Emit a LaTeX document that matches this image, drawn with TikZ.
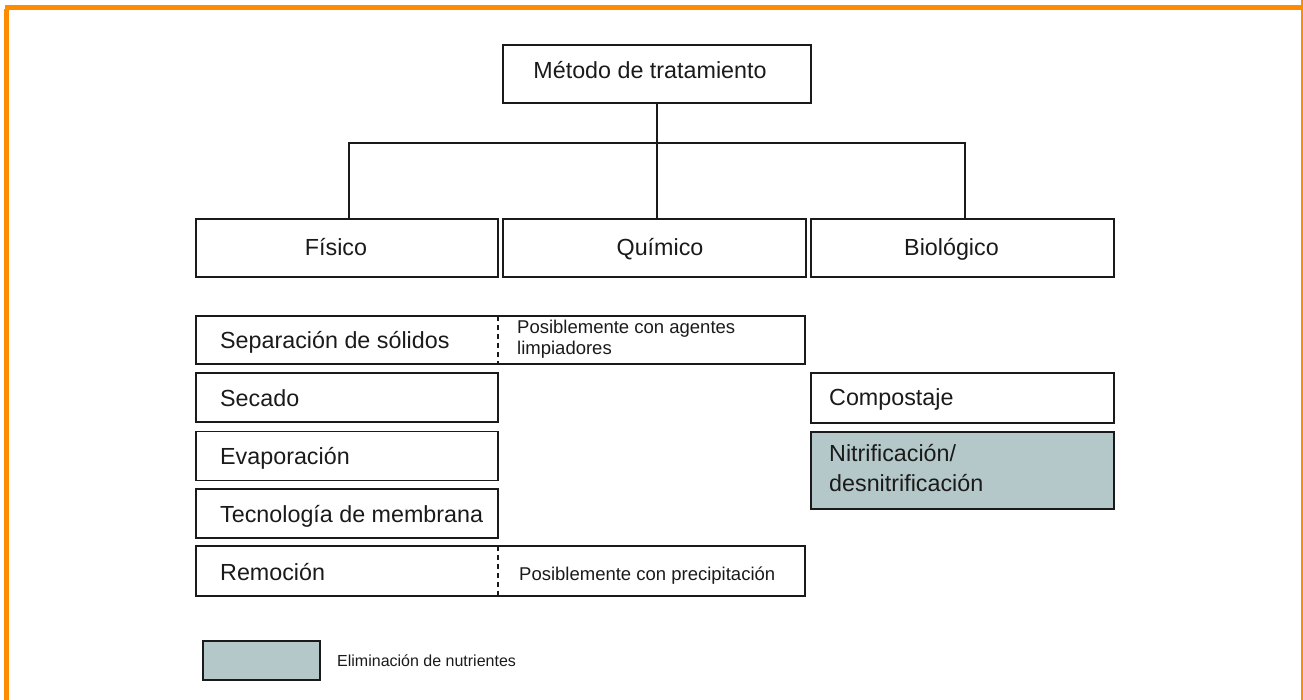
\documentclass[tikz,border=0pt]{standalone}
\usepackage{fontspec}
\setmainfont{Liberation Sans}
\definecolor{nutri}{HTML}{B5C8C9}
\definecolor{frame}{HTML}{FF8C00}
\definecolor{ink}{HTML}{1A1A1A}
\begin{document}
\begin{tikzpicture}[x=1pt,y=-1pt,
  box/.style={draw=ink, line width=1.9pt, inner sep=0pt},
  bigtxt/.style={font=\fontsize{23.3}{29}\selectfont, inner sep=0pt, text=ink},
  smalltxt/.style={font=\fontsize{18.5}{21}\selectfont, inner sep=0pt, text=ink},
  conn/.style={draw=ink, line width=1.9pt},
  divider/.style={draw=ink, line width=1.3pt, dash pattern=on 5pt off 4pt}]
\useasboundingbox (0,0) rectangle (1303,700);
% orange frame
\draw[frame, line width=5pt] (6.5,9) -- (6.5,700);
\draw[frame, line width=5pt] (5,7.5) -- (1303,7.5);
\draw[frame, line width=3pt] (1302.5,0) -- (1302.5,700);

% top level
\node[box, minimum width=308pt, minimum height=58pt] (top) at (657,74) {};
\node[bigtxt, anchor=base] (toptxt) at (650,79) {Método de tratamiento};

% second level
\node[box, minimum width=302pt, minimum height=58pt] (fis) at (347,248) {};
\node[box, minimum width=303pt, minimum height=58pt] (qui) at (654.5,248) {};
\node[box, minimum width=303pt, minimum height=58pt] (bio) at (962.5,248) {};
\node[bigtxt, anchor=base] (fistxt) at (336,256) {Físico};
\node[bigtxt, anchor=base] (quitxt) at (660,256) {Químico};
\node[bigtxt, anchor=base] (biotxt) at (951.5,256) {Biológico};

\coordinate (j) at (657,143);
\draw[conn] (top.south) -- (top.south |- qui.north);
\draw[conn] ([xshift=2pt]fis.north) |- (j) -| ([xshift=2.5pt]bio.north);

% physical column
\node[box, minimum width=609pt, minimum height=48pt] (sep) at (500.5,340) {};
\coordinate (sepdivT) at (498,316);
\coordinate (sepdivB) at (498,364);
\draw[divider] (sepdivT) -- (sepdivB);
\node[bigtxt, anchor=base west] (septxt) at (220,348.5) {Separación de sólidos};
\node[smalltxt, anchor=west, align=left] (sepnote) at (517,339.5) {Posiblemente con agentes\\limpiadores};

\node[box, minimum width=302pt, minimum height=49pt] (sec) at (347,397.5) {};
\node[bigtxt, anchor=base west] (sectxt) at (220,406) {Secado};
\node[box, minimum width=302pt, minimum height=49pt] (eva) at (347,456) {};
\node[bigtxt, anchor=base west] (evatxt) at (220,464.5) {Evaporación};
\node[box, minimum width=302pt, minimum height=49pt] (tec) at (347,513.5) {};
\node[bigtxt, anchor=base west] (tectxt) at (220,522) {Tecnología de membrana};

\node[box, minimum width=609pt, minimum height=50pt] (rem) at (500.5,571) {};
\coordinate (remdivT) at (498,546);
\coordinate (remdivB) at (498,596);
\draw[divider] (remdivT) -- (remdivB);
\node[bigtxt, anchor=base west] (remtxt) at (220,580) {Remoción};
\node[smalltxt, anchor=base west] (remnote) at (519,580) {Posiblemente con precipitación};

% biological column
\node[box, minimum width=303pt, minimum height=50pt] (com) at (962.5,398) {};
\node[bigtxt, anchor=base west] (comtxt) at (829,405.5) {Compostaje};
\node[box, fill=nutri, minimum width=303pt, minimum height=77pt] (nit) at (962.5,470.5) {};
\node[bigtxt, anchor=base west] (nittxtA) at (829,461.5) {Nitrificación/};
\node[bigtxt, anchor=base west] (nittxtB) at (829,491.5) {desnitrificación};

% legend
\node[box, fill=nutri, minimum width=117pt, minimum height=39pt] (leg) at (261.5,660.5) {};
\node[font=\fontsize{16}{19}\selectfont, text=ink, anchor=west, inner sep=0pt] (legtxt) at (337,661) {Eliminación de nutrientes};
\end{tikzpicture}
\end{document}
